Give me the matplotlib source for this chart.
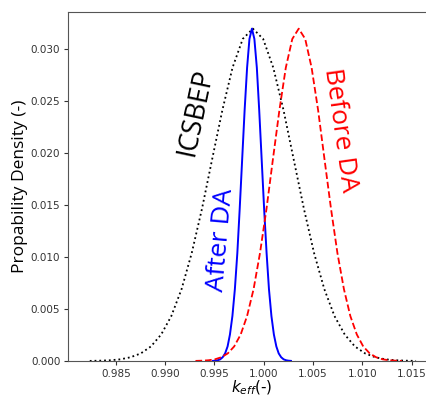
import matplotlib
matplotlib.use("Agg")
import matplotlib.pyplot as plt

# ICSBEP benchmark distribution (black dotted)
k_icsbep = [0.98234, 0.98338, 0.98441, 0.98545, 0.98648, 0.98752, 0.98855, 0.98959,
            0.99062, 0.99166, 0.99269, 0.99373, 0.99476, 0.99580, 0.99683, 0.99787,
            0.99890, 0.99994, 1.00097, 1.00201, 1.00304, 1.00408, 1.00511, 1.00615,
            1.00718, 1.00822, 1.00925, 1.01029, 1.01132, 1.01236, 1.01339, 1.01443,
            1.01546]
pdf_icsbep = [0.00001, 0.00003, 0.00007, 0.00016, 0.00036, 0.00073, 0.00140, 0.00255,
              0.00433, 0.00692, 0.01039, 0.01465, 0.01941, 0.02415, 0.02824, 0.03101,
              0.03200, 0.03101, 0.02824, 0.02415, 0.01941, 0.01465, 0.01039, 0.00692,
              0.00433, 0.00255, 0.00140, 0.00073, 0.00036, 0.00016, 0.00007, 0.00003,
              0.00001]

# after data assimilation (blue solid)
k_after = [0.99484, 0.99509, 0.99534, 0.99558, 0.99583, 0.99608, 0.99633, 0.99657,
           0.99682, 0.99707, 0.99732, 0.99756, 0.99781, 0.99806, 0.99831, 0.99855,
           0.99880, 0.99905, 0.99930, 0.99954, 0.99979, 1.00004, 1.00029, 1.00053,
           1.00078, 1.00103, 1.00128, 1.00152, 1.00177, 1.00202, 1.00227, 1.00251,
           1.00276]
pdf_after = [0.00001, 0.00003, 0.00007, 0.00016, 0.00036, 0.00073, 0.00140, 0.00255,
             0.00433, 0.00692, 0.01039, 0.01465, 0.01941, 0.02415, 0.02824, 0.03101,
             0.03200, 0.03101, 0.02824, 0.02415, 0.01941, 0.01465, 0.01039, 0.00692,
             0.00433, 0.00255, 0.00140, 0.00073, 0.00036, 0.00016, 0.00007, 0.00003,
             0.00001]

# before data assimilation (red dashed)
k_before = [0.99307, 0.99373, 0.99438, 0.99504, 0.99569, 0.99635, 0.99700, 0.99766,
            0.99831, 0.99897, 0.99962, 1.00028, 1.00093, 1.00159, 1.00224, 1.00290,
            1.00355, 1.00421, 1.00486, 1.00552, 1.00617, 1.00683, 1.00748, 1.00814,
            1.00879, 1.00945, 1.01010, 1.01076, 1.01141, 1.01207, 1.01272, 1.01338,
            1.01403]
pdf_before = [0.00001, 0.00003, 0.00007, 0.00016, 0.00036, 0.00073, 0.00140, 0.00255,
              0.00433, 0.00692, 0.01039, 0.01465, 0.01941, 0.02415, 0.02824, 0.03101,
              0.03200, 0.03101, 0.02824, 0.02415, 0.01941, 0.01465, 0.01039, 0.00692,
              0.00433, 0.00255, 0.00140, 0.00073, 0.00036, 0.00016, 0.00007, 0.00003,
              0.00001]

x_ticks = [0.985, 0.990, 0.995, 1.000, 1.005, 1.010, 1.015]
y_ticks = [0.000, 0.005, 0.010, 0.015, 0.020, 0.025, 0.030]

LABEL_FONT = ["Open Sans", "DejaVu Sans"]

fig = plt.figure(figsize=(4.27, 3.97), dpi=100)
ax = fig.add_axes([0.159, 0.0907, 0.861, 0.879])

ax.plot(k_icsbep, pdf_icsbep, color="black", ls=":", lw=1.3)
ax.plot(k_after, pdf_after, color="blue", ls="-", lw=1.4)
ax.plot(k_before, pdf_before, color="red", ls="--", lw=1.3)

ax.set_xlim(0.98012, 1.01744)
ax.set_ylim(0.0, 0.0336)
ax.set_xticks(x_ticks)
ax.set_xticklabels([f"{v:.3f}" for v in x_ticks])
ax.set_yticks(y_ticks)
ax.set_yticklabels([f"{v:.3f}" for v in y_ticks])
ax.tick_params(labelsize=7.5, colors="#333333", length=3, pad=2.5)
for s in ax.spines.values():
    s.set_color("#555555")

ax.set_xlabel("$k_{eff}$(-)", fontsize=11, labelpad=0)
ax.set_ylabel("Propability Density (-)", fontsize=12.5, family=LABEL_FONT, labelpad=2)

# rotated curve annotations (data coords)
ax.text(0.99314, 0.0239, "ICSBEP", rotation=78, ha="center", va="center",
        fontsize=19.5, color="black", family=LABEL_FONT, rotation_mode="anchor")
ax.text(1.00779, 0.0222, "Before DA", rotation=-82, ha="center", va="center",
        fontsize=19, color="red", family=LABEL_FONT, rotation_mode="anchor")
ax.text(0.99568, 0.01163, "After DA", rotation=85, ha="center", va="center",
        fontsize=19, color="blue", family=LABEL_FONT, rotation_mode="anchor")

fig.savefig("out.png", dpi=100)
